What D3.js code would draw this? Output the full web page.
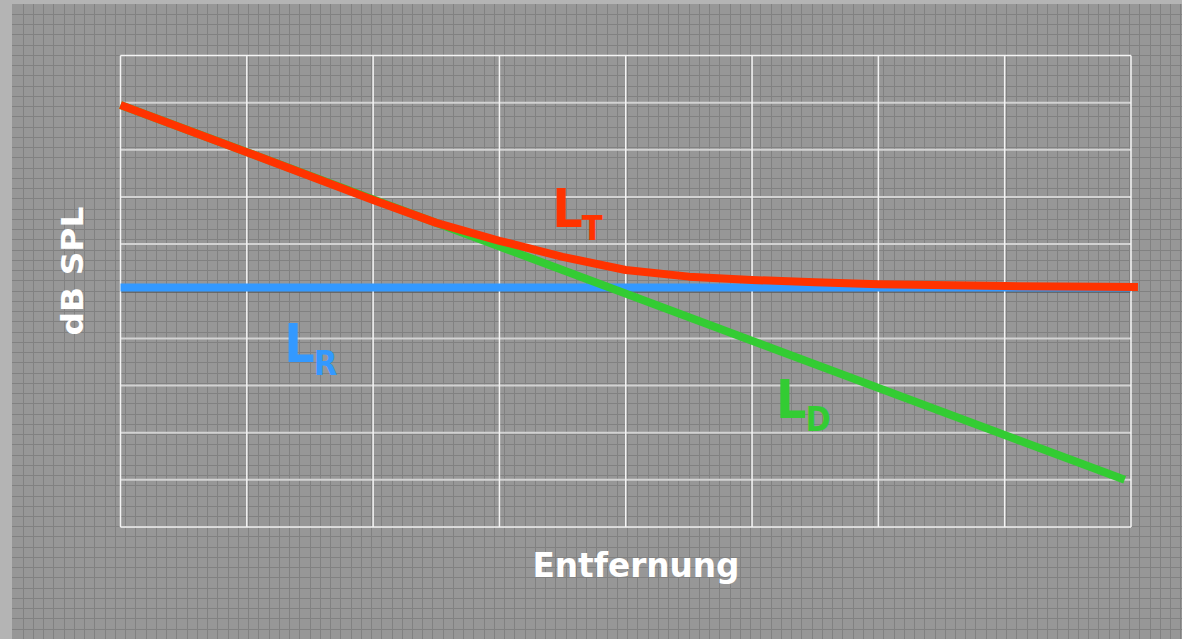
<!DOCTYPE html>
<html><head><meta charset="utf-8">
<script src="https://cdn.jsdelivr.net/npm/d3@7"></script>
<style>html,body{margin:0;padding:0;background:#b4b4b4;} svg{display:block}</style>
</head><body>
<svg id="c" width="1182" height="639"></svg>
<script>
// ---- data ----
const xTicks = [0,1,2,3,4,5,6,7,8];
const yTicks = [0,1,2,3,4,5,6,7,8,9,10];
const distT  = [0,1,2,2.5,3,3.5,4,4.5,5,5.5,6,7,8.055];
const levelT = [8.95,7.95,6.935,6.45,6.07,5.73,5.45,5.31,5.24,5.19,5.15,5.11,5.09];
const distD  = [0,7.95];
const levelD = [8.95,1.0];
const distR  = [0,8];
const levelR = [5.08,5.08];
const labelNames = ["L","L","L"];
const labelSubs  = ["T","R","D"];
const labelX     = [3.426,1.305,5.198];
const labelY     = [6.363,3.5,2.312];
const labelColors= ["#ff3300","#3399ff","#33cc33"];
const xTitle = "Entfernung";
const yTitle = "dB SPL";

const W = 1182, H = 639;
const svg = d3.select("#c");
const x = d3.scaleLinear().domain([0,8]).range([120.5,1131]);
const y = d3.scaleLinear().domain([0,10]).range([527,55.5]);

// background panel with fine grid
svg.append("rect").attr("x",12).attr("y",4).attr("width",W-12).attr("height",H-4).attr("fill","#979797");
const step = 10.245;
const bg = svg.append("g").attr("stroke","#818181").attr("stroke-width",1);
d3.range(22.7, W, step).forEach(v => bg.append("line").attr("x1",Math.round(v)+0.5).attr("x2",Math.round(v)+0.5).attr("y1",4).attr("y2",H));
d3.range(14, H, step).forEach(v => bg.append("line").attr("y1",Math.round(v)+0.5).attr("y2",Math.round(v)+0.5).attr("x1",12).attr("x2",W));

// horizontal gridlines
svg.append("g").selectAll("line").data(yTicks.filter(d=>d>0&&d<10&&d!==5)).join("line")
  .attr("x1",x(0)).attr("x2",x(8)).attr("y1",d=>y(d)).attr("y2",d=>y(d))
  .attr("stroke","#d2d2d2").attr("stroke-width",2);
// dark reference line at 5
svg.append("line").attr("x1",x(0)).attr("x2",x(8)).attr("y1",y(4.98)).attr("y2",y(4.98))
  .attr("stroke","#5a5a5a").attr("stroke-width",1.2);
// vertical gridlines
svg.append("g").selectAll("line").data(xTicks).join("line")
  .attr("x1",d=>x(d)).attr("x2",d=>x(d)).attr("y1",y(10)).attr("y2",y(0))
  .attr("stroke","#f4f4f4").attr("stroke-width",1.5);
// top/bottom border
[0,10].forEach(v => svg.append("line").attr("x1",x(0)).attr("x2",x(8)).attr("y1",y(v)).attr("y2",y(v))
  .attr("stroke","#f4f4f4").attr("stroke-width",1.5));

const line = d3.line().x(d=>x(d[0])).y(d=>y(d[1]));
const series = [
  {d: d3.zip(distR, levelR), c:"#3399ff"},
  {d: d3.zip(distD, levelD), c:"#33cc33"},
  {d: d3.zip(distT, levelT), c:"#ff3300"}
];
series.forEach(s => svg.append("path").attr("d", line(s.d)).attr("fill","none")
  .attr("stroke", s.c).attr("stroke-width",8).attr("stroke-linejoin","round"));

// labels (single text element with subscript tspan)
const ff = "'DejaVu Sans', Verdana, sans-serif";
const ffc = "'DejaVu Sans Condensed', 'DejaVu Sans', sans-serif";
labelNames.forEach((n,i) => {
  const t = svg.append("text").attr("x",x(labelX[i])-1).attr("y",y(labelY[i]))
    .attr("font-family",ffc).attr("font-weight","bold").attr("fill",labelColors[i]);
  t.append("tspan").attr("font-size",53).text(n);
  t.append("tspan").attr("font-size",34).attr("dx",-1).attr("dy",13).text(labelSubs[i]);
});

// axis titles
svg.append("text").attr("x",636).attr("y",577).attr("text-anchor","middle").text(xTitle)
  .attr("font-family",ff).attr("font-weight","bold").attr("font-size",34)
  .attr("textLength",207).attr("lengthAdjust","spacingAndGlyphs").attr("fill","#fff");
svg.append("text").attr("transform","translate(83,271) rotate(-90)").attr("text-anchor","middle").text(yTitle)
  .attr("font-family",ff).attr("font-weight","bold").attr("font-size",30)
  .attr("textLength",129).attr("lengthAdjust","spacingAndGlyphs").attr("fill","#fff");
</script>
</body></html>
